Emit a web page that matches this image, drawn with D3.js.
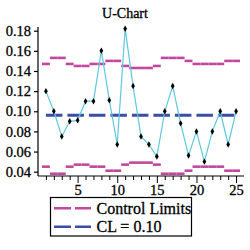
<!DOCTYPE html>
<html><head><meta charset="utf-8">
<script src="https://cdn.jsdelivr.net/npm/d3@7"></script>
<style>body{margin:0;background:#fff}svg{display:block}text{font-family:"Liberation Serif","Times New Roman",serif;stroke:#000;stroke-width:0.3px;fill:#000}</style>
</head><body><svg id="c" width="250" height="250"></svg>
<script>
const samples = d3.range(1, 26);
const uValues = [0.120,0.100,0.075,0.090,0.091,0.110,0.110,0.160,0.111,0.067,0.182,0.125,0.075,0.067,0.055,0.100,0.125,0.088,0.056,0.080,0.050,0.080,0.100,0.067,0.100];
const ucl = [0.147,0.153,0.153,0.147,0.145,0.145,0.147,0.147,0.150,0.150,0.145,0.143,0.143,0.143,0.145,0.153,0.153,0.153,0.150,0.147,0.147,0.147,0.147,0.150,0.150];
const lcl = [0.045,0.038,0.038,0.045,0.047,0.047,0.045,0.045,0.041,0.041,0.047,0.049,0.049,0.049,0.047,0.038,0.038,0.038,0.041,0.045,0.045,0.045,0.045,0.041,0.041];
const centerLine = 0.096;
const yTicks = [0.04,0.06,0.08,0.10,0.12,0.14,0.16,0.18];
const xLabelTicks = [5,10,15,20,25];
const legendLabels = ["Control Limits","CL = 0.10"];
const title = "U-Chart";

const svg = d3.select("#c");
const x = d3.scaleLinear().domain([0,26]).range([38,244]);
const y = d3.scaleLinear().domain([0.04,0.18]).range([171.7,30.7]);
const pink = "#c2489f", blue = "#3a4ea6", cyan = "#5cc9dc";

svg.append("text").attr("x",125).attr("y",18).attr("text-anchor","middle").attr("font-size",14).text(title);

// axes
const ya = d3.axisLeft(y).tickValues(yTicks).tickFormat(d3.format(".2f")).tickSize(4).tickSizeOuter(0);
const gy = svg.append("g").attr("transform","translate(38,0)").call(ya);
gy.select(".domain").attr("d","M0,27V176").attr("stroke-width",1.2);
gy.selectAll("text").attr("font-size",14.5);
gy.selectAll("line").attr("stroke","#000").attr("stroke-width",1.2);

const xa = d3.axisBottom(x).tickValues(samples).tickFormat(d => xLabelTicks.includes(d) ? d : "").tickSize(4).tickSizeOuter(0);
const gx = svg.append("g").attr("transform","translate(0,176)").call(xa);
gx.select(".domain").attr("d","M38,0H244").attr("stroke-width",1.2);
gx.selectAll(".tick").filter(d => xLabelTicks.includes(d)).select("line").attr("y2",7);
gx.selectAll("text").attr("font-size",14.5).attr("dy","0.85em");
gx.selectAll("line").attr("stroke","#000");

// control limit segments
const half = (x(2)-x(1))/2;
[ucl, lcl].forEach(arr => {
  svg.append("g").selectAll("line").data(samples).join("line")
    .attr("x1", d => x(d)-half).attr("x2", d => x(d)+half)
    .attr("y1", (d,i) => y(arr[i])).attr("y2", (d,i) => y(arr[i]))
    .attr("stroke", pink).attr("stroke-width", 2.6);
});

// center line
svg.append("line").attr("x1",x(1)).attr("x2",x(25)).attr("y1",y(centerLine)).attr("y2",y(centerLine))
  .attr("stroke",blue).attr("stroke-width",3).attr("stroke-dasharray","16.5,5");

// data line
const line = d3.line().x((d,i)=>x(samples[i])).y(d=>y(d));
svg.append("path").datum(uValues).attr("d",line).attr("fill","none").attr("stroke",cyan).attr("stroke-width",1.2);
svg.append("g").selectAll("path").data(uValues).join("path")
  .attr("transform",(d,i)=>`translate(${x(samples[i])},${y(d)})`)
  .attr("d", d3.symbol().type(d3.symbolDiamond).size(12)).attr("fill","#000");

// legend
const lg = svg.append("g");
lg.append("rect").attr("x",50.5).attr("y",197.5).attr("width",141).attr("height",38.5).attr("fill","#fff").attr("stroke","#000").attr("stroke-width",1.2);
const ly = [208.3, 226.7];
[pink, blue].forEach((c,i) => {
  lg.append("line").attr("x1",54).attr("x2",91).attr("y1",ly[i]).attr("y2",ly[i]).attr("stroke",c).attr("stroke-width",2.5).attr("stroke-dasharray","17,4");
  lg.append("text").attr("x",96.5).attr("y",ly[i]+5.2).attr("font-size",16).text(legendLabels[i]);
});
</script></body></html>
